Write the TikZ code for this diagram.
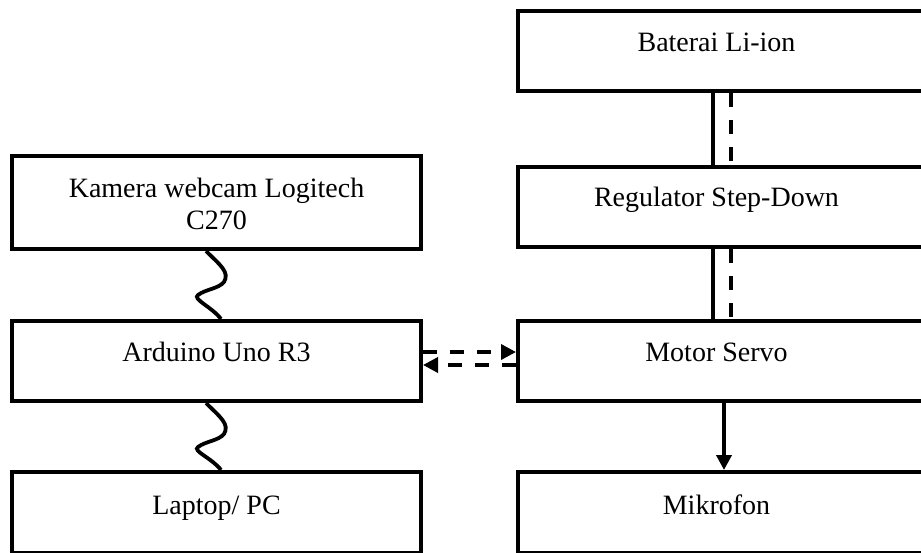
\documentclass[tikz,border=0pt]{standalone}
\usepackage{fontspec}
\setmainfont{Liberation Serif}
\usetikzlibrary{arrows.meta,calc}
\begin{document}
\begin{tikzpicture}[x=1pt,y=-1pt,
  blok/.style={draw,line width=4pt,rectangle,minimum height=80pt,inner sep=0pt},
  kiri/.style={blok,minimum width=409pt},
  kanan/.style={blok,minimum width=407pt},
  teks/.style={font=\fontsize{28}{32}\selectfont,align=center},
  baris/.style={teks,anchor=base},
  kabel/.style={line width=3.8pt},
  putus/.style={line width=3.5pt,dash pattern=on 14pt off 13pt},
  panah/.style={-{Triangle[length=15pt,width=15pt]}}]
\useasboundingbox (0,0) rectangle (921,552);
% left column
\node[kiri,minimum height=93pt] (kam) at (216.5,202.5) {};
\node[kiri] (ard) at (216.5,361) {};
\node[kiri,minimum height=81pt] (lap) at (216.5,512.5) {};
% right column (runs past the right margin)
\node[kanan] (bat) at (721.5,51) {};
\node[kanan] (reg) at (721.5,207) {};
\node[kanan] (mot) at (721.5,361) {};
\node[kanan,minimum height=81pt] (mik) at (721.5,512.5) {};
% labels
\node[teks] at (216.5,204) {Kamera webcam Logitech\\C270};
\node[baris] at (216.5,361) {Arduino Uno R3};
\node[baris] at (216.5,514) {Laptop/ PC};
\node[baris] at (716.5,51) {Baterai Li-ion};
\node[baris] at (716.5,206) {Regulator Step-Down};
\node[baris] at (716.5,361) {Motor Servo};
\node[baris] at (716.5,514) {Mikrofon};
% USB cables
\coordinate (k1) at ($(kam.south)+(-10.5,0)$);
\coordinate (k2) at ($(ard.north)+(4.5,0)$);
\draw[kabel] (k1) .. controls ++(14,14) and ++(6,-10) .. ++(18,31)
  .. controls ++(-6,7) and ++(8,-6) .. ++(-26,13)
  .. controls ++(-6,4) and ++(-9,-12) .. (k2);
\coordinate (l1) at ($(ard.south)+(-10.5,0)$);
\coordinate (l2) at ($(lap.north)+(4.5,0)$);
\draw[kabel] (l1) .. controls ++(14,14) and ++(6,-10) .. ++(18,31)
  .. controls ++(-6,7) and ++(8,-6) .. ++(-26,13)
  .. controls ++(-6,4) and ++(-9,-12) .. (l2);
% power lines
\coordinate (p1) at (713,0);
\coordinate (p2) at (731,0);
\draw[kabel] (bat.south -| p1) -- (reg.north -| p1);
\draw[putus] (bat.south -| p2) -- (reg.north -| p2);
\draw[kabel] (reg.south -| p1) -- (mot.north -| p1);
\draw[putus] (reg.south -| p2) -- (mot.north -| p2);
% servo to microphone
\coordinate (m1) at (724,0);
\draw[kabel,panah] (mot.south -| m1) -- (mik.north -| m1);
% data lines
\coordinate (d1) at (0,352);
\coordinate (d2) at (0,365);
\draw[putus,panah] (ard.east |- d1) -- (mot.west |- d1);
\draw[putus,panah] (mot.west |- d2) -- (ard.east |- d2);
\end{tikzpicture}
\end{document}
